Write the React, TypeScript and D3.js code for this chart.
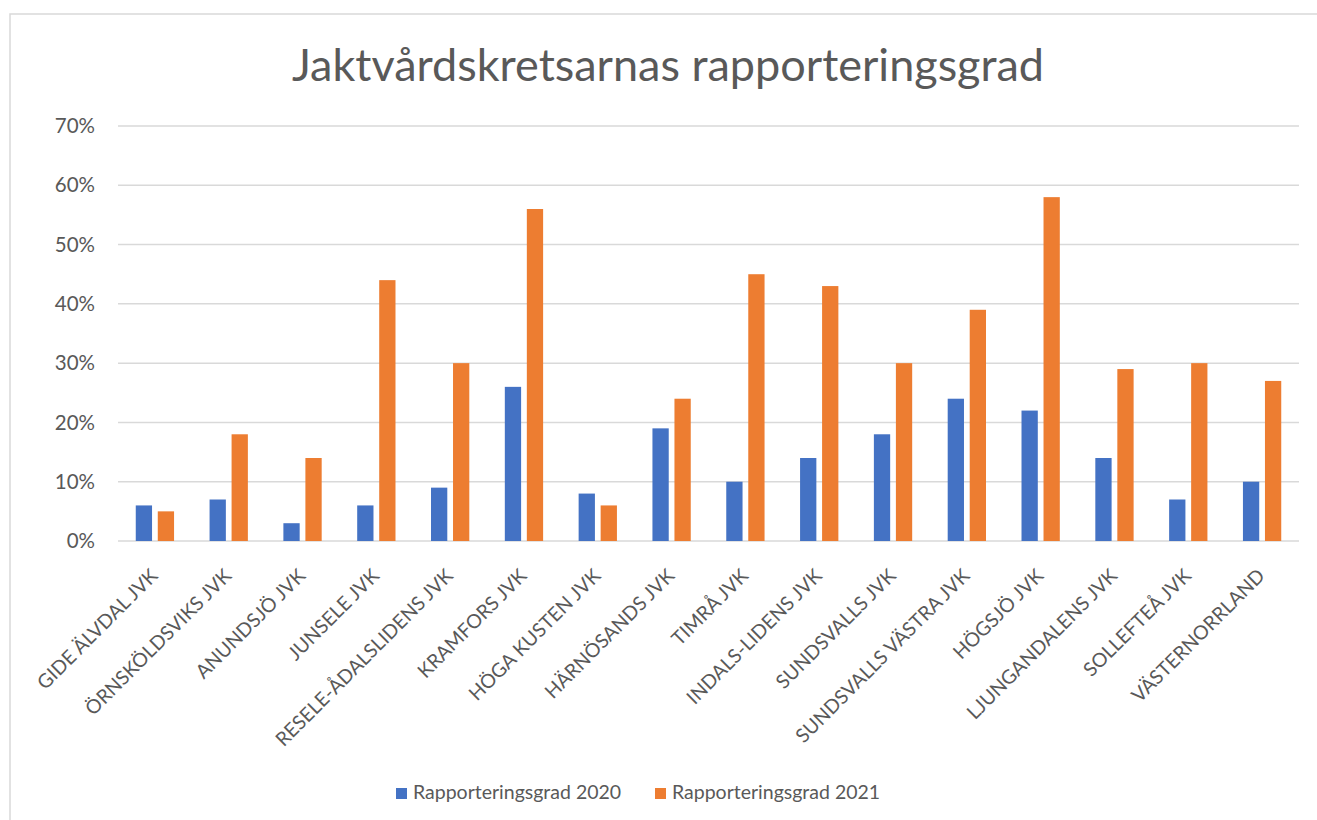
import React from 'react';
import * as d3 from 'd3';

const categories = [
  'GIDE ÄLVDAL JVK',
  'ÖRNSKÖLDSVIKS JVK',
  'ANUNDSJÖ JVK',
  'JUNSELE JVK',
  'RESELE-ÅDALSLIDENS JVK',
  'KRAMFORS JVK',
  'HÖGA KUSTEN JVK',
  'HÄRNÖSANDS JVK',
  'TIMRÅ JVK',
  'INDALS-LIDENS JVK',
  'SUNDSVALLS JVK',
  'SUNDSVALLS VÄSTRA JVK',
  'HÖGSJÖ JVK',
  'LJUNGANDALENS JVK',
  'SOLLEFTEÅ JVK',
  'VÄSTERNORRLAND',
];

const grad2020 = [0.06, 0.07, 0.03, 0.06, 0.09, 0.26, 0.08, 0.19, 0.10, 0.14, 0.18, 0.24, 0.22, 0.14, 0.07, 0.10];
const grad2021 = [0.05, 0.18, 0.14, 0.44, 0.30, 0.56, 0.06, 0.24, 0.45, 0.43, 0.30, 0.39, 0.58, 0.29, 0.30, 0.27];

const seriesNames = ['Rapporteringsgrad 2020', 'Rapporteringsgrad 2021'];
const seriesColors = ['#4472c4', '#ed7d31'];
const yTicks = [0, 0.1, 0.2, 0.3, 0.4, 0.5, 0.6, 0.7];

const FONT = 'Lato, "Open Sans", sans-serif';
const TEXT = '#595959';

const App = () => {
  const width = 1317;
  const height = 820;
  const plot = { left: 118, right: 1299, top: 126, bottom: 541 };

  const x0 = d3.scaleBand<string>().domain(categories).range([plot.left, plot.right]);
  const x1 = d3.scaleBand<string>().domain(seriesNames).range([0, 38.3]).paddingInner(0.26);
  const y = d3.scaleLinear().domain([0, 0.7]).range([plot.bottom, plot.top]);
  const fmt = d3.format('.0%');
  const offset = (x0.bandwidth() - 38.3) / 2;

  const values = [grad2020, grad2021];

  return (
    <svg width={width} height={height} style={{ position: 'absolute', left: 0, top: 0, background: '#fff' }}>
      <rect x={10} y={14} width={1320} height={830} fill="#fff" stroke="#d9d9d9" strokeWidth={1.5} />
      <text x={668} y={81} textAnchor="middle" fontFamily={FONT} fontSize={45} fill={TEXT}>
        Jaktvårdskretsarnas rapporteringsgrad
      </text>

      {yTicks.map(t => (
        <g key={t}>
          <line x1={plot.left} x2={plot.right} y1={y(t)} y2={y(t)} stroke="#d9d9d9" strokeWidth={1.5} />
          <text x={95} y={y(t)} dy="0.35em" textAnchor="end" fontFamily={FONT} fontSize={20.5} fill={TEXT}>
            {fmt(t)}
          </text>
        </g>
      ))}

      {categories.map((c, i) => (
        <g key={c} transform={`translate(${x0(c)! + offset},0)`}>
          {seriesNames.map((s, j) => (
            <rect
              key={s}
              x={x1(s)}
              y={y(values[j][i])}
              width={x1.bandwidth()}
              height={y(0) - y(values[j][i])}
              fill={seriesColors[j]}
            />
          ))}
        </g>
      ))}

      {categories.map(c => (
        <text
          key={c}
          transform={`translate(${x0(c)! + x0.bandwidth() / 2 + 4},${plot.bottom + 36}) rotate(-45)`}
          textAnchor="end"
          fontFamily={FONT}
          fontSize={19.5}
          fill={TEXT}
        >
          {c}
        </text>
      ))}

      {seriesNames.map((s, j) => {
        const lx = j === 0 ? 396 : 655;
        return (
          <g key={s}>
            <rect x={lx} y={788} width={11} height={11} fill={seriesColors[j]} />
            <text x={lx + 17} y={799} fontFamily={FONT} fontSize={19.5} fill={TEXT}>
              {s}
            </text>
          </g>
        );
      })}
    </svg>
  );
};

export default App;
